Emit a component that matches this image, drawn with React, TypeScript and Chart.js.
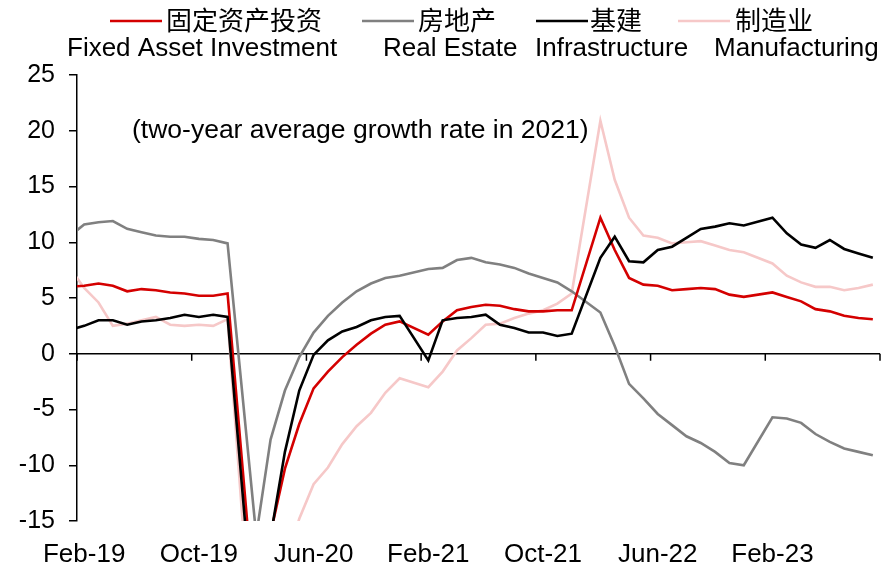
import { useEffect, useRef } from 'react';
import { Chart, registerables } from 'chart.js';

Chart.register(...registerables);

// Monthly categories (Dec-18 precedes the visible axis; January values are not published)
const months = [
  'Dec-18',
  'Jan-19', 'Feb-19', 'Mar-19', 'Apr-19', 'May-19', 'Jun-19', 'Jul-19', 'Aug-19', 'Sep-19', 'Oct-19', 'Nov-19', 'Dec-19',
  'Jan-20', 'Feb-20', 'Mar-20', 'Apr-20', 'May-20', 'Jun-20', 'Jul-20', 'Aug-20', 'Sep-20', 'Oct-20', 'Nov-20', 'Dec-20',
  'Jan-21', 'Feb-21', 'Mar-21', 'Apr-21', 'May-21', 'Jun-21', 'Jul-21', 'Aug-21', 'Sep-21', 'Oct-21', 'Nov-21', 'Dec-21',
  'Jan-22', 'Feb-22', 'Mar-22', 'Apr-22', 'May-22', 'Jun-22', 'Jul-22', 'Aug-22', 'Sep-22', 'Oct-22', 'Nov-22', 'Dec-22',
  'Jan-23', 'Feb-23', 'Mar-23', 'Apr-23', 'May-23', 'Jun-23', 'Jul-23', 'Aug-23', 'Sep-23',
];

const fixedAsset = [
  5.9,
  null, 6.1, 6.3, 6.1, 5.6, 5.8, 5.7, 5.5, 5.4, 5.2, 5.2, 5.4,
  null, -24.5, -16.1, -10.3, -6.3, -3.1, -1.6, -0.3, 0.8, 1.8, 2.6, 2.9,
  null, 1.7, 2.9, 3.9, 4.2, 4.4, 4.3, 4.0, 3.8, 3.8, 3.9, 3.9,
  null, 12.2, 9.3, 6.8, 6.2, 6.1, 5.7, 5.8, 5.9, 5.8, 5.3, 5.1,
  null, 5.5, 5.1, 4.7, 4.0, 3.8, 3.4, 3.2, 3.1,
];

const realEstate = [
  9.5,
  null, 11.6, 11.8, 11.9, 11.2, 10.9, 10.6, 10.5, 10.5, 10.3, 10.2, 9.9,
  null, -16.3, -7.7, -3.3, -0.3, 1.9, 3.4, 4.6, 5.6, 6.3, 6.8, 7.0,
  null, 7.6, 7.7, 8.4, 8.6, 8.2, 8.0, 7.7, 7.2, 6.8, 6.4, 5.6,
  null, 3.7, 0.7, -2.7, -4.0, -5.4, -6.4, -7.4, -8.0, -8.8, -9.8, -10.0,
  null, -5.7, -5.8, -6.2, -7.2, -7.9, -8.5, -8.8, -9.1,
];

const infrastructure = [
  1.8,
  null, 2.5, 3.0, 3.0, 2.6, 2.9, 3.0, 3.2, 3.5, 3.3, 3.5, 3.3,
  null, -26.9, -16.4, -8.8, -3.3, -0.1, 1.2, 2.0, 2.4, 3.0, 3.3, 3.4,
  null, -0.6, 3.0, 3.2, 3.3, 3.5, 2.6, 2.3, 1.9, 1.9, 1.6, 1.8,
  null, 8.6, 10.5, 8.3, 8.2, 9.3, 9.6, 10.4, 11.2, 11.4, 11.7, 11.5,
  null, 12.2, 10.8, 9.8, 9.5, 10.2, 9.4, 9.0, 8.6,
];

const manufacturing = [
  9.5,
  null, 5.9, 4.6, 2.5, 2.7, 3.0, 3.3, 2.6, 2.5, 2.6, 2.5, 3.1,
  null, -31.5, -25.2, -18.8, -14.8, -11.7, -10.2, -8.1, -6.5, -5.3, -3.5, -2.2,
  null, -3.0, -1.6, 0.3, 1.4, 2.6, 2.7, 3.2, 3.6, 3.9, 4.5, 5.4,
  null, 20.9, 15.6, 12.2, 10.6, 10.4, 9.9, 10.0, 10.1, 9.7, 9.3, 9.1,
  null, 8.1, 7.0, 6.4, 6.0, 6.0, 5.7, 5.9, 6.2,
];

const seriesNamesCn = ['固定资产投资', '房地产', '基建', '制造业'];
const seriesNamesEn = ['Fixed Asset Investment', 'Real Estate', 'Infrastructure', 'Manufacturing'];
const seriesColors = ['#D40000', '#808080', '#000000', '#F6C8C8'];
const yTicks = [-15, -10, -5, 0, 5, 10, 15, 20, 25];
const annotation = '(two-year average growth rate in 2021)';

const FIRST_VISIBLE = 2; // index of Feb-19 in months
const LABEL_STEP = 8;
const LAST_INDEX = months.length - 1 - FIRST_VISIBLE;

const latin = '"Liberation Sans", Arial, sans-serif';
const cjk = '"Noto Sans CJK SC", sans-serif';

// legend layout (pixel positions)
const legendLayout = [
  { lineX: 110, cnX: 166, enX: 67 },
  { lineX: 362, cnX: 418, enX: 383 },
  { lineX: 536, cnX: 590, enX: 535 },
  { lineX: 678, cnX: 735, enX: 714 },
];

export default function App() {
  const ref = useRef<HTMLCanvasElement | null>(null);

  useEffect(() => {
    document.body.style.margin = '0';
    const canvas = ref.current;
    if (!canvas) return;

    const toPoints = (vals: (number | null)[]) =>
      vals
        .map((v, i) => (v === null ? null : { x: i - FIRST_VISIBLE, y: v }))
        .filter((p) => p !== null) as { x: number; y: number }[];

    const allSeries = [fixedAsset, realEstate, infrastructure, manufacturing];
    const labelPositions: number[] = [];
    for (let v = 0; v <= LAST_INDEX; v += LABEL_STEP) labelPositions.push(v);
    const boundaries = labelPositions.map((v) => v - 0.5).concat([LAST_INDEX + 0.5]);

    const zeroAxis = {
      id: 'zeroAxis',
      beforeDatasetsDraw(chart: any) {
        const { ctx, chartArea, scales } = chart;
        const y0 = scales.y.getPixelForValue(0);
        ctx.save();
        ctx.strokeStyle = '#000';
        ctx.lineWidth = 1.5;
        ctx.beginPath();
        ctx.moveTo(chartArea.left, y0);
        ctx.lineTo(chartArea.right, y0);
        for (const b of boundaries) {
          const px = scales.x.getPixelForValue(b);
          ctx.moveTo(px, y0);
          ctx.lineTo(px, y0 + 7);
        }
        ctx.stroke();
        ctx.restore();
      },
    };

    const legendAndNote = {
      id: 'legendAndNote',
      afterDraw(chart: any) {
        const { ctx } = chart;
        ctx.save();
        ctx.textBaseline = 'middle';
        ctx.textAlign = 'left';
        ctx.fillStyle = '#000';
        legendLayout.forEach((pos, i) => {
          ctx.strokeStyle = seriesColors[i];
          ctx.lineWidth = 2.5;
          ctx.beginPath();
          ctx.moveTo(pos.lineX, 21);
          ctx.lineTo(pos.lineX + 52, 21);
          ctx.stroke();
          ctx.font = `26px ${cjk}`;
          ctx.fillText(seriesNamesCn[i], pos.cnX, 20);
          ctx.font = `26px ${latin}`;
          ctx.fillText(seriesNamesEn[i], pos.enX, 49);
        });
        ctx.font = `26.5px ${latin}`;
        ctx.fillText(annotation, 132, 131);
        ctx.restore();
      },
    };

    const chart = new Chart(canvas, {
      type: 'line',
      data: {
        datasets: allSeries.map((vals, i) => ({
          label: seriesNamesEn[i],
          data: toPoints(vals),
          borderColor: seriesColors[i],
          backgroundColor: seriesColors[i],
          borderWidth: 2.6,
          pointRadius: 0,
          tension: 0,
          clip: 0,
          order: [2, 3, 1, 4][i],
        })),
      },
      options: {
        animation: false,
        responsive: false,
        layout: { padding: { top: 75, right: 3, left: 0, bottom: 0 } },
        plugins: { legend: { display: false }, tooltip: { enabled: false } },
        scales: {
          x: {
            type: 'linear',
            min: -0.5,
            max: LAST_INDEX + 0.5,
            afterBuildTicks: (s: any) => {
              s.ticks = labelPositions.map((v) => ({ value: v }));
            },
            afterFit: (s: any) => {
              s.height = 43;
            },
            grid: { display: false },
            border: { display: false },
            ticks: {
              autoSkip: false,
              maxRotation: 0,
              padding: 10,
              color: '#000',
              font: { family: latin, size: 26 },
              callback: (v: any) => months[Number(v) + FIRST_VISIBLE] ?? '',
            },
          },
          y: {
            min: -15,
            max: 25,
            afterBuildTicks: (s: any) => {
              s.ticks = yTicks.map((v) => ({ value: v }));
            },
            afterFit: (s: any) => {
              s.width = 77;
            },
            grid: { drawOnChartArea: false, tickLength: 8, color: '#000', lineWidth: 1.5 },
            border: { color: '#000', width: 1.5 },
            ticks: {
              padding: 14,
              color: '#000',
              font: { family: latin, size: 25 },
            },
          },
        },
      },
      plugins: [zeroAxis, legendAndNote],
    });

    return () => chart.destroy();
  }, []);

  return (
    <div style={{ width: 883, height: 564, background: '#fff' }}>
      <canvas ref={ref} width={883} height={564} style={{ display: 'block' }} />
    </div>
  );
}
